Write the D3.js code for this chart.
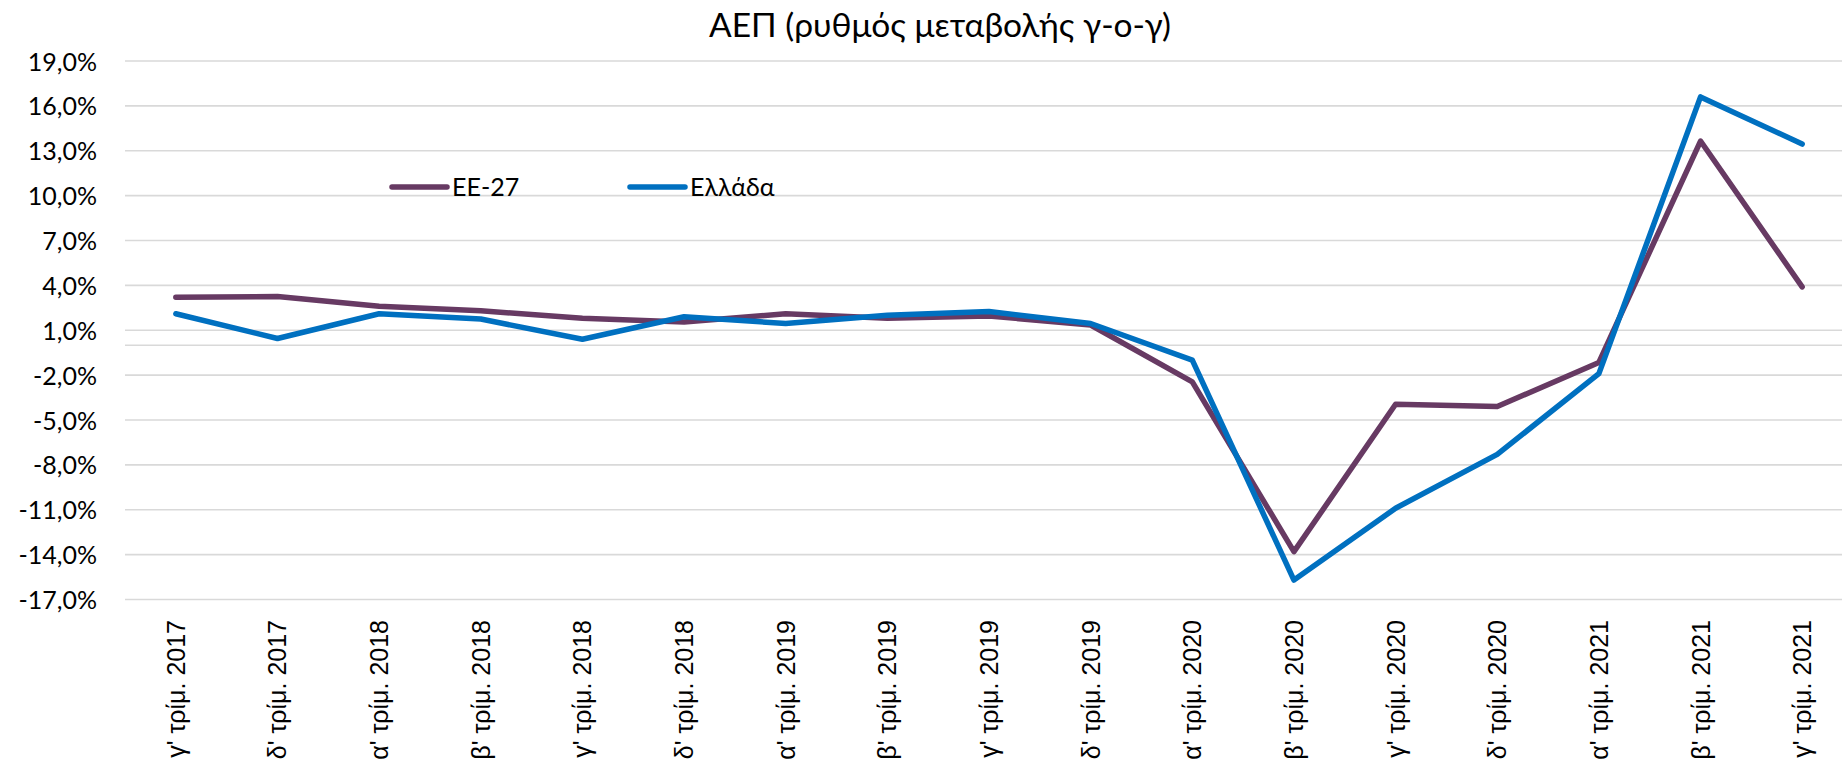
<!DOCTYPE html>
<html>
<head>
<meta charset="utf-8">
<script src="https://cdn.jsdelivr.net/npm/d3@7"></script>
<style>
	body { margin: 0; overflow: hidden; background: white; }
</style>
</head>
<body>
<div id="chart"></div>
<script>
const categories = [
	"γ' τρίμ. 2017", "δ' τρίμ. 2017",
	"α' τρίμ. 2018", "β' τρίμ. 2018", "γ' τρίμ. 2018", "δ' τρίμ. 2018",
	"α' τρίμ. 2019", "β' τρίμ. 2019", "γ' τρίμ. 2019", "δ' τρίμ. 2019",
	"α' τρίμ. 2020", "β' τρίμ. 2020", "γ' τρίμ. 2020", "δ' τρίμ. 2020",
	"α' τρίμ. 2021", "β' τρίμ. 2021", "γ' τρίμ. 2021"
];
const eu27 = [3.2, 3.25, 2.6, 2.3, 1.8, 1.55, 2.1, 1.8, 1.95, 1.35, -2.45, -13.8, -3.95, -4.1, -1.15, 13.65, 3.9];
const greece = [2.1, 0.45, 2.1, 1.75, 0.4, 1.9, 1.45, 2.0, 2.25, 1.45, -1.0, -15.7, -10.9, -7.3, -1.9, 16.6, 13.45];
const yTicks = [19, 16, 13, 10, 7, 4, 1, -2, -5, -8, -11, -14, -17];
const seriesNames = ['ΕΕ-27', 'Ελλάδα'];

let svgWidth = 1842
let svgHeight = 773
let colors = ['#673A63', '#0070C0']

let svg = d3.select('#chart').append('svg')
	.attr('width', svgWidth)
	.attr('height', svgHeight)

let x = d3.scalePoint()
	.domain(categories)
	.range([125, 1853])
	.padding(0.5)

let y = d3.scaleLinear()
	.domain([-17, 19])
	.range([599.5, 61])

// gridlines (plus the zero line of the category axis)
svg.append('g')
	.selectAll('line')
	.data(yTicks.concat([0]))
	.enter()
	.append('line')
	.attr('x1', 125)
	.attr('x2', 1853)
	.attr('y1', d => y(d))
	.attr('y2', d => y(d))
	.attr('stroke', '#D9D9D9')
	.attr('stroke-width', 1.6)

// y axis labels
let axis_y = d3.axisLeft(y)
	.tickValues(yTicks)
	.tickSize(0)
	.tickPadding(0)
	.tickFormat(d => d3.format('.1f')(d).replace('.', ',').replace('−', '-') + '%')

svg.append('g')
	.attr('transform', 'translate(97, 0)')
	.call(axis_y)
	.call(g => g.select('.domain').remove())
	.selectAll('text')
	.attr('dy', '0.36em')
	.style('font-family', 'Lato, sans-serif')
	.style('font-size', '25px')
	.attr('fill', '#000')

// x axis labels
svg.append('g')
	.selectAll('text')
	.data(categories)
	.enter()
	.append('text')
	.attr('transform', d => `translate(${x(d) + 9}, 620) rotate(-90)`)
	.attr('text-anchor', 'end')
	.style('font-family', '"Liberation Sans", Arial, sans-serif')
	.style('font-size', '25px')
	.attr('fill', '#000')
	.text(d => d)

// lines
let line = d3.line()
	.x((d, i) => x(categories[i]))
	.y(d => y(d))

svg.append('path')
	.datum(eu27)
	.attr('d', line)
	.attr('fill', 'none')
	.attr('stroke', colors[0])
	.attr('stroke-width', 5.5)
	.attr('stroke-linecap', 'round')
	.attr('stroke-linejoin', 'round')

svg.append('path')
	.datum(greece)
	.attr('d', line)
	.attr('fill', 'none')
	.attr('stroke', colors[1])
	.attr('stroke-width', 5.5)
	.attr('stroke-linecap', 'round')
	.attr('stroke-linejoin', 'round')

// title
svg.append('text')
	.attr('x', 940)
	.attr('y', 37)
	.attr('text-anchor', 'middle')
	.style('font-family', 'Lato, sans-serif')
	.style('font-size', '33.5px')
	.attr('fill', '#000')
	.text('ΑΕΠ (ρυθμός μεταβολής γ-ο-γ)')

// legend
let legend = svg.selectAll('.legend')
	.data(seriesNames)
	.enter()
	.append('g')
	.attr('class', 'legend')
	.attr('transform', (d, i) => `translate(${392 + i * 238}, 187)`)

legend.append('line')
	.attr('x1', 0)
	.attr('x2', 55)
	.attr('y1', 0)
	.attr('y2', 0)
	.attr('stroke', (d, i) => colors[i])
	.attr('stroke-width', 5.5)
	.attr('stroke-linecap', 'round')

legend.append('text')
	.attr('x', 60)
	.attr('y', 9)
	.style('font-family', 'Lato, sans-serif')
	.style('font-size', '25px')
	.attr('fill', '#000')
	.text(d => d)
</script>
</body>
</html>
